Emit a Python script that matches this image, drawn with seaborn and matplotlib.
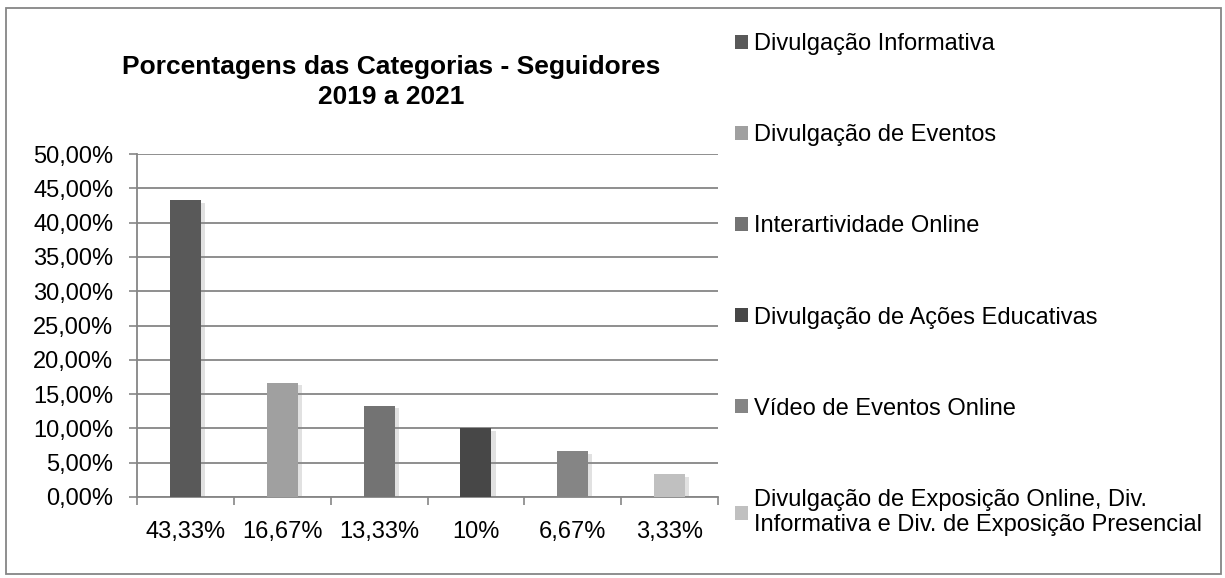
import numpy as np
import matplotlib.pyplot as plt
import matplotlib.patheffects as pe
from matplotlib.patches import Patch, Rectangle
from matplotlib.ticker import FuncFormatter, FixedLocator
import seaborn as sns

# chart data
x_labels = ["43,33%", "16,67%", "13,33%", "10%", "6,67%", "3,33%"]
values = [43.33, 16.67, 13.33, 10.0, 6.67, 3.33]
categories = [
    "Divulgação Informativa",
    "Divulgação de Eventos",
    "Interartividade Online",
    "Divulgação de Ações Educativas",
    "Vídeo de Eventos Online",
    "Divulgação de Exposição Online, Div.\nInformativa e Div. de Exposição Presencial",
]
bar_colors = ["#595959", "#a0a0a0", "#737373", "#474747", "#858585", "#c0c0c0"]
y_ticks = [0, 5, 10, 15, 20, 25, 30, 35, 40, 45, 50]

sns.set_style("white")
plt.rcParams['font.family'] = ['Liberation Sans', 'DejaVu Sans']
plt.rcParams['text.color'] = 'black'

W, H = 1225, 578
fig = plt.figure(figsize=(W / 100, H / 100), dpi=100)
ax = fig.add_axes([137 / W, 1 - 497 / H, (718 - 137) / W, (497 - 154) / H])

sns.barplot(x=x_labels, y=values, hue=categories, palette=bar_colors,
            dodge=False, width=0.32, legend=False, ax=ax, zorder=3)

shadow = [pe.SimplePatchShadow(offset=(3, -2), shadow_rgbFace="#8a8a8a", alpha=0.25), pe.Normal()]
for p in ax.patches:
    p.set_path_effects(shadow)
    p.set_edgecolor("none")

ax.set_ylim(0, 50)
ax.set_xlim(-0.5, len(x_labels) - 0.5)
ax.yaxis.set_major_locator(FixedLocator(y_ticks))
ax.yaxis.set_major_formatter(FuncFormatter(lambda v, _: f"{v:.2f}%".replace(".", ",")))
ax.grid(axis="y", color="#868686", linewidth=1.3, zorder=0)
ax.set_axisbelow(True)

ax.set_xticks(np.arange(-0.5, len(x_labels), 1.0), minor=True)
ax.tick_params(axis="x", which="major", length=0, labelsize=17, pad=17, labelcolor="black")
ax.tick_params(axis="x", which="minor", length=6, width=1.2, color="#868686", direction="out", bottom=True)
ax.tick_params(axis="y", length=6, width=1.2, color="#868686", direction="out", left=True,
               labelsize=17, labelcolor="black", pad=11)

for side in ["top", "right"]:
    ax.spines[side].set_visible(False)
for side in ["left", "bottom"]:
    ax.spines[side].set_color("#868686")
    ax.spines[side].set_linewidth(1.3)
ax.set_xlabel("")
ax.set_ylabel("")

fig.text(391 / W, 1 - 82 / H, "Porcentagens das Categorias - Seguidores\n2019 a 2021",
         ha="center", va="center", fontsize=19, fontweight="bold", linespacing=1.3,
         color="black")

handles = [Patch(facecolor=c, edgecolor="none") for c in bar_colors]
fig.legend(handles, categories, loc="upper left", bbox_to_anchor=(735 / W, 1 - 33 / H),
           frameon=False, fontsize=17, handlelength=0.55, handleheight=0.55,
           handletextpad=0.25, labelspacing=2.93, borderpad=0, borderaxespad=0,
           labelcolor="black")

fig.patches.append(Rectangle((6 / W, 1 - 574 / H), (1221 - 6) / W, (574 - 8) / H,
                             transform=fig.transFigure, fill=False,
                             edgecolor="#868686", linewidth=1.3))

fig.savefig("out.png", dpi=100)
